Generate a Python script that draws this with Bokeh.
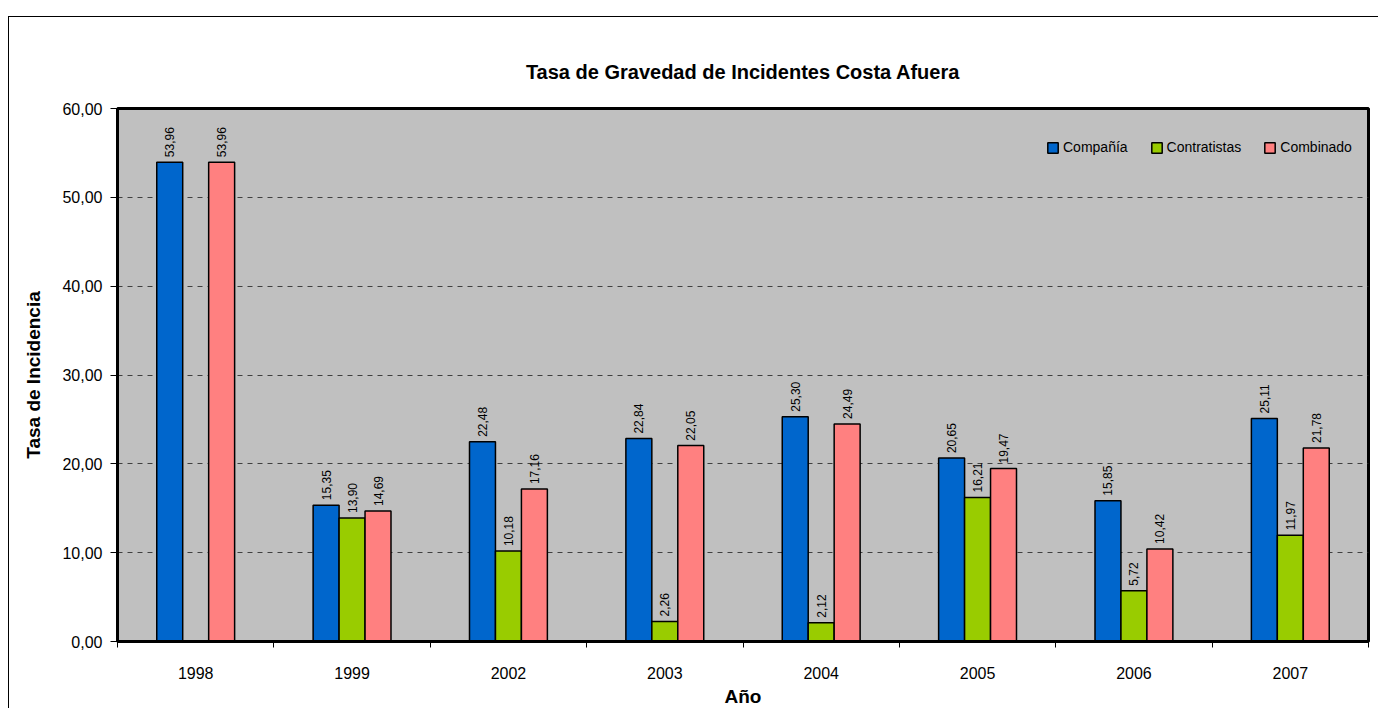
import math
from bokeh.plotting import figure
from bokeh.models import (ColumnDataSource, FixedTicker, LabelSet, Legend, LegendItem,
                          Range1d, Title)
from bokeh.core.properties import value
from bokeh.embed import file_html
from bokeh.resources import INLINE

years = ["1998", "1999", "2002", "2003", "2004", "2005", "2006", "2007"]
compania = [53.96, 15.35, 22.48, 22.84, 25.30, 20.65, 15.85, 25.11]
contratistas = [float("nan"), 13.90, 10.18, 2.26, 2.12, 16.21, 5.72, 11.97]
combinado = [53.96, 14.69, 17.16, 22.05, 24.49, 19.47, 10.42, 21.78]
y_ticks = [0, 10, 20, 30, 40, 50, 60]
y_tick_labels = ["0,00", "10,00", "20,00", "30,00", "40,00", "50,00", "60,00"]

series = [("Compañía", compania, "#0066CC", -1),
          ("Contratistas", contratistas, "#99CC00", 0),
          ("Combinado", combinado, "#FF8080", 1)]

FONT = "Liberation Sans"
BW = 0.166

p = figure(width=1370, height=692, output_backend="svg", toolbar_location=None,
           x_range=Range1d(0, len(years)), y_range=Range1d(0, 60),
           min_border_left=108, min_border_right=11, min_border_top=91, min_border_bottom=68)
p.styles = {"margin-top": "16px", "margin-left": "8px",
            "border-left": "1px solid black", "border-top": "1px solid black"}

p.background_fill_color = "#C0C0C0"
p.border_fill_color = "white"
p.outline_line_color = "black"
p.outline_line_width = 3

title = Title(text="Tasa de Gravedad de Incidentes Costa Afuera", align="center",
              text_font=FONT, text_font_size="20px", text_font_style="bold",
              text_color="black", offset=0, standoff=52)
p.add_layout(title, "above")

renderers = []
for name, vals, color, k in series:
    xs = [i + 0.5 + k * BW for i in range(len(years))]
    labels = [("" if (isinstance(v, float) and math.isnan(v)) else f"{v:.2f}".replace(".", ","))
              for v in vals]
    src = ColumnDataSource(dict(x=xs, top=vals, lab=labels))
    r = p.vbar(x="x", top="top", width=BW, bottom=0, source=src, fill_color=color,
               line_color="black", line_width=1.5)
    renderers.append((name, r))
    ls = LabelSet(x="x", y="top", text="lab", source=src, angle=math.pi / 2,
                  text_align="left", text_baseline="middle", y_offset=5,
                  text_font=value(FONT), text_font_size=value("12px"), text_color="black")
    p.add_layout(ls)

# grid
p.xgrid.visible = False
p.ygrid.ticker = FixedTicker(ticks=[10, 20, 30, 40, 50])
p.ygrid.grid_line_color = "#404040"
p.ygrid.grid_line_dash = "5 5"
p.ygrid.grid_line_width = 1

# x axis
xa = p.xaxis[0]
xa.ticker = FixedTicker(ticks=[i + 0.5 for i in range(len(years))],
                        minor_ticks=list(range(len(years) + 1)))
xa.major_label_overrides = {i + 0.5: y for i, y in enumerate(years)}
xa.major_tick_out = 0
xa.major_tick_in = 0
xa.minor_tick_out = 6
xa.minor_tick_in = 0
xa.minor_tick_line_color = "black"
xa.axis_line_color = "black"
xa.axis_line_width = 3
xa.major_label_standoff = 19
xa.major_label_text_font = FONT
xa.major_label_text_font_size = "16px"
xa.major_label_text_color = "black"
xa.axis_label = "Año"
xa.axis_label_text_font = FONT
xa.axis_label_text_font_size = "19px"
xa.axis_label_text_font_style = "bold"
xa.axis_label_text_color = "black"
xa.axis_label_standoff = 4

ya = p.yaxis[0]
ya.ticker = FixedTicker(ticks=y_ticks, minor_ticks=[])
ya.major_label_overrides = {t: l for t, l in zip(y_ticks, y_tick_labels)}
ya.major_tick_out = 7
ya.major_tick_in = 0
ya.major_tick_line_color = "black"
ya.axis_line_color = "black"
ya.axis_line_width = 3
ya.major_label_standoff = 8
ya.major_label_text_font = FONT
ya.major_label_text_font_size = "16px"
ya.major_label_text_color = "black"
ya.axis_label = "Tasa de Incidencia"
ya.axis_label_text_font = FONT
ya.axis_label_text_font_size = "19px"
ya.axis_label_text_font_style = "bold"
ya.axis_label_text_color = "black"
ya.axis_label_standoff = 15

legend = Legend(items=[LegendItem(label=n, renderers=[r]) for n, r in renderers],
                orientation="horizontal", location=(929, 486))
legend.background_fill_alpha = 0
legend.border_line_color = None
legend.padding = 0
legend.margin = 0
legend.spacing = 22
legend.glyph_width = 13
legend.glyph_height = 13
legend.label_standoff = 4
legend.label_text_font = FONT
legend.label_text_font_size = "14px"
legend.label_text_color = "black"
p.add_layout(legend)

open("out.html", "w").write(file_html(p, INLINE))
